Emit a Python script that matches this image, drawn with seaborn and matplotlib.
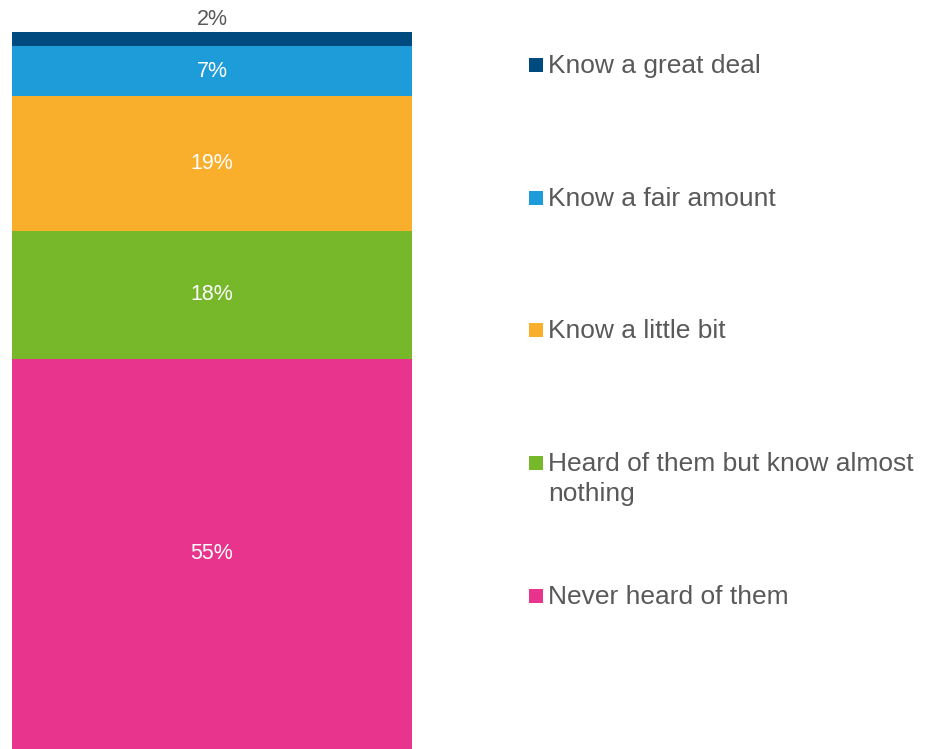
import matplotlib
matplotlib.use("Agg")
import matplotlib.pyplot as plt
from matplotlib.patches import Rectangle
import seaborn as sns
import numpy as np

# Awareness levels, stacked bottom to top
categories = ["Never heard of them", "Heard of them but know almost\nnothing",
              "Know a little bit", "Know a fair amount", "Know a great deal"]
values = [55, 18, 19, 7, 2]
colors = ["#E8348C", "#76B82A", "#F9AE2C", "#1E9CD9", "#004A80"]
label_colors = ["white", "white", "white", "white", "#595959"]

sns.set_theme(style="white")
plt.rcParams["font.family"] = ["Liberation Sans", "DejaVu Sans"]

W, H = 926, 749
fig = plt.figure(figsize=(W / 100, H / 100), dpi=100)
fig.patch.set_facecolor("white")

# Bar area: 12..412 px horizontally, from the bottom edge up to y=32 px
ax = fig.add_axes([12 / W, 0, 400 / W, (H - 32) / H])
ax.set_facecolor("white")

bottoms = np.concatenate([[0], np.cumsum(values)[:-1]])
for v, b, c in zip(values, bottoms, colors):
    sns.barplot(x=["all"], y=[v], bottom=b, color=c, width=1.0,
                saturation=1, ax=ax, edgecolor="none", linewidth=0)

ax.set_xlim(-0.5, 0.5)
ax.set_ylim(0, sum(values))
ax.axis("off")

# Value labels: inside each segment, except the thin top one which sits above
for v, b, lc in zip(values, bottoms, label_colors):
    if lc == "white":
        ax.text(0, b + v / 2, f"{v}%", ha="center", va="center",
                color="white", fontsize=15.5)
    else:
        ax.text(0, sum(values) + 0.3, f"{v}%", ha="center", va="bottom",
                color=lc, fontsize=15.5, clip_on=False)

# Legend on the right, top entry first (baselines in pixels from the top)
legend_base = [73, 206, 338, 471, 604]
line_gap = 30
for cat, c, yb in zip(categories[::-1], colors[::-1], legend_base):
    fig.patches.append(Rectangle((529 / W, 1 - (yb - 1) / H), 14 / W, 14 / H,
                                 transform=fig.transFigure, facecolor=c,
                                 edgecolor="none"))
    for k, line in enumerate(cat.split("\n")):
        fig.text(548 / W, 1 - (yb + k * line_gap) / H, line, ha="left",
                 va="baseline", fontsize=19, color="#595959")

fig.savefig("out.png", dpi=100, facecolor="white")
